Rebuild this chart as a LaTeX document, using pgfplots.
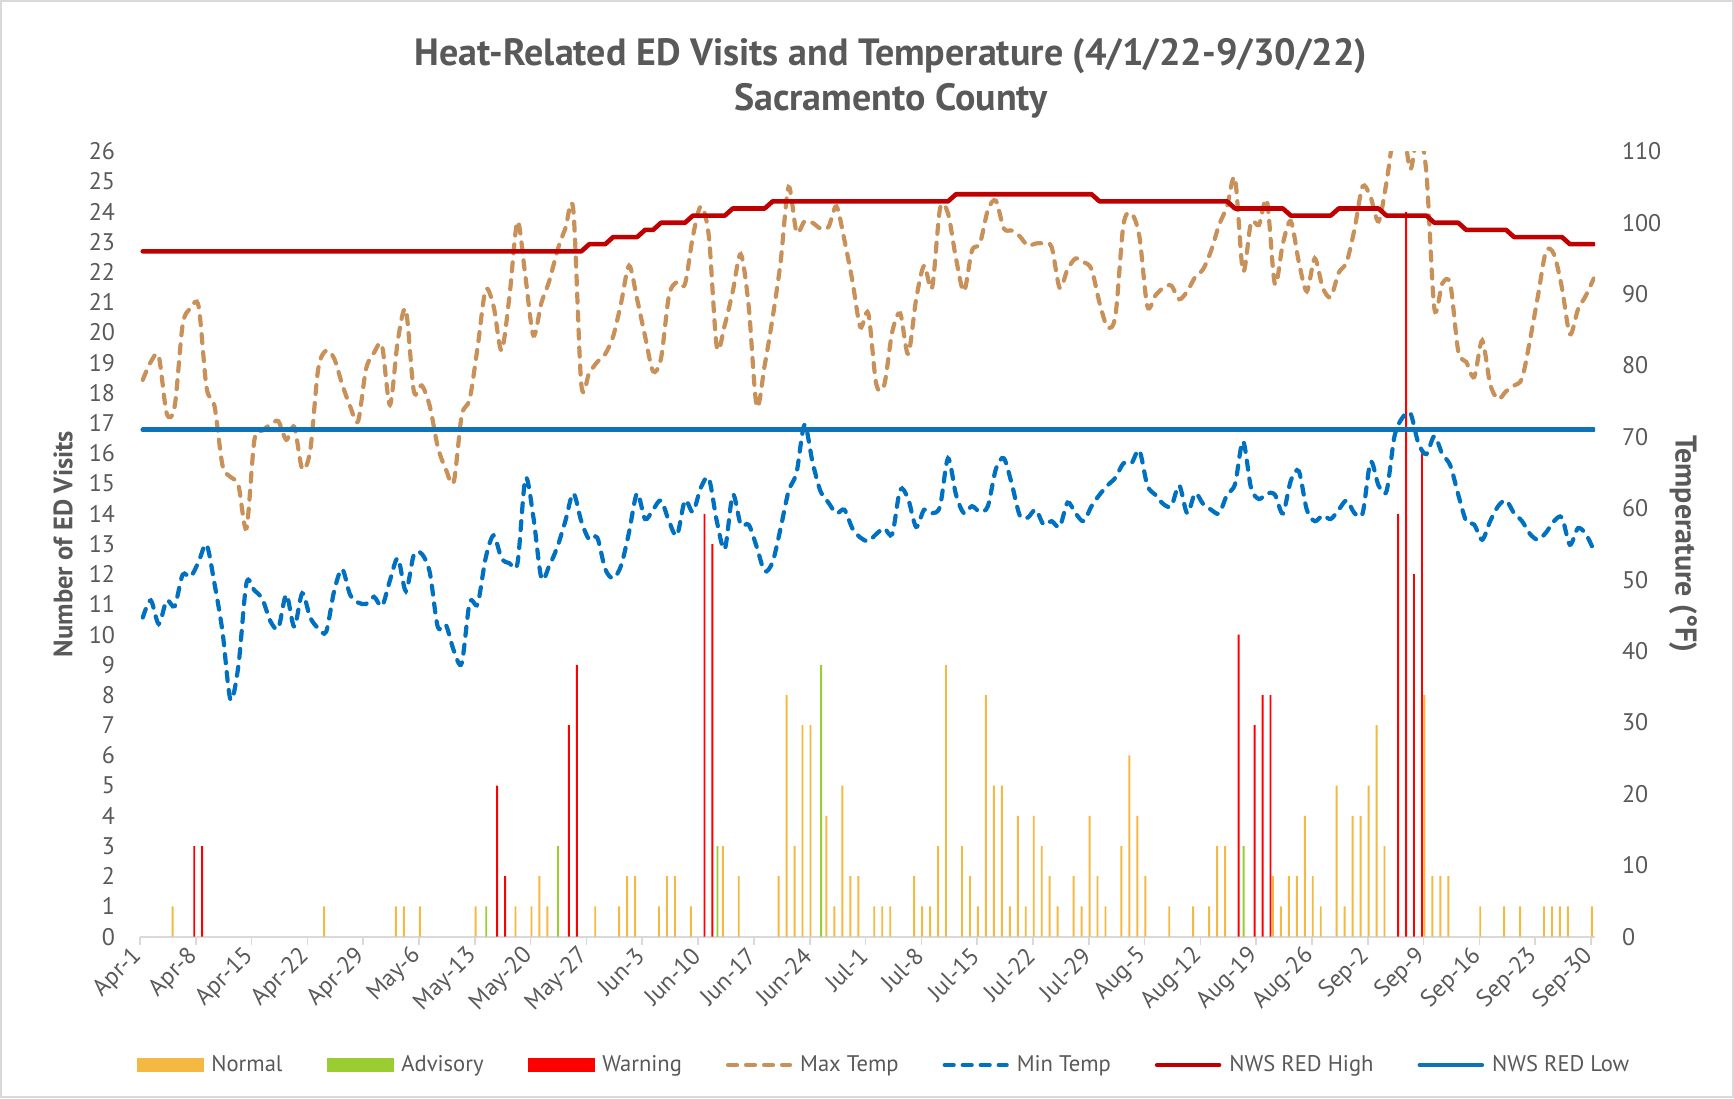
\documentclass[border=0pt]{standalone}
\usepackage{fontspec}
\setmainfont{PT Sans}
\usepackage{pgfplots}
\pgfplotsset{compat=1.18}
\usepackage{pgfplotstable}

\definecolor{cNormal}{HTML}{F4B942}
\definecolor{cAdv}{HTML}{9ACD32}
\definecolor{cWarn}{HTML}{FF0000}
\definecolor{cMax}{HTML}{C8915A}
\definecolor{cMin}{HTML}{0070C0}
\definecolor{cHigh}{HTML}{C00000}
\definecolor{cLow}{HTML}{0E72B8}
\definecolor{tcol}{HTML}{595959}
\definecolor{gcol}{HTML}{D9D9D9}

\pgfplotstableread{
d v
4 1
23 1
32 1
33 1
35 1
42 1
47 1
49 1
50 2
51 1
57 1
60 1
61 2
62 2
65 1
66 2
67 2
69 1
73 3
75 2
80 2
81 8
82 3
83 7
84 7
86 4
87 1
88 5
89 2
90 2
92 1
93 1
94 1
97 2
98 1
99 1
100 3
101 9
103 3
104 2
105 1
106 8
107 5
108 5
109 1
110 4
111 1
112 4
113 3
114 2
115 1
117 2
118 1
119 4
120 2
121 1
123 3
124 6
125 4
126 2
129 1
132 1
134 1
135 3
136 3
142 2
143 1
144 2
145 2
146 4
147 2
148 1
150 5
151 1
152 4
153 4
154 5
155 7
156 3
161 8
162 2
163 2
164 2
168 1
171 1
173 1
176 1
177 1
178 1
179 1
182 1
}\normaltab

\pgfplotstableread{
d v
43 1
52 3
72 3
85 9
138 3
}\advtab

\pgfplotstableread{
d v
7 3
8 3
45 5
46 2
54 7
55 9
71 14
72 13
138 10
140 7
141 8
142 8
158 14
159 24
160 12
161 16
}\warntab

\pgfplotstableread{
d max min high
0 78.0 44.7 96
1 80.5 47.1 96
2 81.3 43.8 96
3 73.3 47.1 96
4 74.3 46.3 96
5 85.7 50.7 96
6 88.0 50.4 96
7 88.3 52.5 96
8 76.9 54.9 96
9 74.3 49.4 96
10 66.0 42.7 96
11 64.4 33.2 96
12 63.2 38.0 96
13 57.2 49.5 96
14 69.6 48.5 96
15 70.9 47.3 96
16 71.7 44.2 96
17 72.2 43.2 96
18 69.6 47.9 96
19 71.4 43.4 96
20 65.5 48.1 96
21 68.1 44.7 96
22 79.5 43.2 96
23 82.1 42.7 96
24 81.0 48.4 96
25 77.4 51.5 96
26 74.3 47.9 96
27 72.2 46.8 96
28 79.5 46.6 96
29 81.8 47.6 96
30 82.8 46.3 96
31 74.5 49.9 96
32 83.6 53.0 96
33 87.8 48.4 96
34 76.4 53.5 96
35 77.2 53.6 96
36 74.3 51.0 96
37 68.6 43.4 96
38 65.5 43.7 96
39 63.7 40.1 96
40 73.0 38.3 96
41 75.3 46.8 96
42 82.6 46.6 96
43 90.6 53.0 96
44 88.3 56.2 96
45 82.1 53.0 96
46 89.8 52.3 96
47 100.2 52.3 96
48 92.4 64.2 96
49 84.2 58.7 96
50 88.8 50.2 96
51 91.9 52.0 96
52 96.1 54.6 96
53 99.2 58.2 96
54 101.8 62.1 96
55 77.4 58.2 96
56 79.0 55.6 97
57 80.5 55.9 97
58 81.6 51.5 97
59 84.1 50.2 98
60 88.8 52.0 98
61 94.0 56.7 98
62 89.3 62.1 98
63 84.1 58.5 99
64 79.2 59.8 99
65 81.0 61.1 100
66 89.8 58.2 100
67 91.7 56.2 100
68 91.4 61.1 100
69 98.1 59.5 101
70 102.3 62.9 101
71 98.1 64.2 101
72 82.6 58.2 101
73 85.7 54.3 101
74 90.4 61.9 102
75 95.6 57.7 102
76 88.3 57.7 102
77 74.3 54.6 102
78 80.0 51.2 102
79 86.7 52.5 103
80 94.5 57.2 103
81 105.0 62.4 103
82 98.7 65.0 103
83 100.2 71.7 103
84 100.0 66.5 103
85 99.2 62.4 103
86 99.4 60.8 103
87 102.3 59.3 103
88 97.6 59.8 103
89 91.9 57.2 103
90 85.4 55.9 103
91 87.3 55.4 103
92 77.4 56.4 103
93 77.3 57.2 103
94 84.7 56.4 103
95 87.3 62.6 103
96 81.6 61.3 103
97 89.3 57.4 103
98 94.0 59.8 103
99 90.9 59.3 103
100 102.0 60.3 103
101 101.3 67.0 103
102 95.0 61.9 104
103 90.4 59.3 104
104 96.1 60.3 104
105 97.1 59.5 104
106 101.8 60.3 104
107 103.1 65.5 104
108 99.2 67.0 104
109 98.9 63.4 104
110 98.1 59.0 104
111 96.8 58.7 104
112 97.1 59.8 104
113 97.1 57.7 104
114 96.6 58.2 104
115 90.9 57.4 104
116 93.5 60.8 104
117 95.0 59.3 104
118 94.5 58.2 104
119 93.5 60.3 104
120 88.8 61.9 103
121 85.4 63.2 103
122 87.0 64.3 103
123 99.7 66.3 103
124 101.3 66.3 103
125 98.1 68.1 103
126 88.3 63.2 103
127 89.8 61.9 103
128 90.9 60.6 103
129 91.2 60.3 103
130 89.3 63.2 103
131 90.4 59.3 103
132 92.4 62.1 103
133 93.5 60.6 103
134 96.1 59.8 103
135 99.7 59.3 103
136 102.3 61.9 103
137 106.2 63.4 102
138 93.2 69.4 102
139 100.0 62.9 102
140 99.7 61.3 102
141 103.1 62.1 102
142 91.4 61.9 102
143 97.1 59.3 102
144 100.2 63.9 101
145 94.5 65.2 101
146 90.4 59.8 101
147 95.0 58.2 101
148 90.9 59.0 101
149 89.6 58.5 101
150 93.0 59.8 102
151 94.5 61.1 102
152 99.2 59.3 102
153 105.1 59.3 102
154 103.6 66.5 102
155 100.2 63.2 102
156 105.7 62.4 101
157 113.0 70.1 101
158 114.0 72.7 101
159 107.5 73.3 101
160 113.0 69.1 101
161 107.0 67.6 101
162 88.0 70.1 100
163 91.5 67.6 100
164 91.4 66.0 100
165 82.0 61.9 100
166 80.5 58.2 99
167 78.4 57.7 99
168 83.5 55.6 99
169 77.4 58.2 99
170 75.3 60.3 99
171 76.4 61.1 99
172 77.2 59.3 98
173 78.2 58.2 98
174 83.6 56.4 98
175 89.8 55.6 98
176 96.0 56.6 98
177 95.6 58.2 98
178 90.9 58.7 98
179 84.4 54.9 97
180 87.8 57.2 97
181 89.8 56.4 97
182 92.2 54.1 97
}\temptab

\begin{document}
\begin{tikzpicture}
\path[use as bounding box] (-70pt,-80.7pt) rectangle (797pt,468.3pt);
\draw[gcol, line width=0.8pt] (-69.5pt,-80.2pt) rectangle (796.5pt,467.8pt);

% ---------- bars (left axis) ----------
\begin{axis}[
  at={(0,0)}, anchor=south west,
  scale only axis, width=727.5pt, height=392.6pt,
  xmin=0, xmax=182.5, ymin=0, ymax=26,
  axis x line*=bottom, axis y line*=left,
  x axis line style={draw=gcol, line width=1pt},
  y axis line style={draw=none},
  xtick={0,7,...,182},
  xticklabels={Apr-1,Apr-8,Apr-15,Apr-22,Apr-29,May-6,May-13,May-20,May-27,Jun-3,Jun-10,Jun-17,Jun-24,Jul-1,Jul-8,Jul-15,Jul-22,Jul-29,Aug-5,Aug-12,Aug-19,Aug-26,Sep-2,Sep-9,Sep-16,Sep-23,Sep-30},
  xtick style={draw=gcol, line width=0.8pt},
  tick align=outside,
  major tick length=4pt,
  ytick={0,1,...,26},
  ytick style={draw=none},
  /pgf/number format/assume math mode=true,
  tick label style={color=tcol, font=\fontsize{12}{14}\selectfont},
  xticklabel style={rotate=45, anchor=east, yshift=-2pt},
  yticklabel style={xshift=-5pt},
  every axis y label/.style={at={(axis description cs:-0.0529,0.5)}, rotate=90, anchor=center, font=\bfseries\fontsize{13.3}{16}\selectfont, color=tcol},
  ylabel={Number of ED Visits},
]
\addplot[ybar, bar width=0.24, bar shift=0.1, fill=cNormal, draw=none] table[x=d,y=v]{\normaltab};
\addplot[ybar, bar width=0.24, bar shift=0.43, fill=cAdv, draw=none] table[x=d,y=v]{\advtab};
\addplot[ybar, bar width=0.24, bar shift=-0.2, fill=cWarn, draw=none] table[x=d,y=v]{\warntab};
\end{axis}

% ---------- temperatures (right axis) ----------
\begin{axis}[
  at={(0,0)}, anchor=south west,
  scale only axis, width=727.5pt, height=392.6pt,
  xmin=0, xmax=182.5, ymin=0, ymax=110,
  axis x line=none, xtick=\empty,
  axis y line*=right,
  y axis line style={draw=none},
  ytick={0,10,...,110},
  ytick style={draw=none},
  /pgf/number format/assume math mode=true,
  tick label style={color=tcol, font=\fontsize{12}{14}\selectfont},
  yticklabel style={xshift=10pt},
  every axis y label/.style={at={(axis description cs:1.0605,0.5)}, rotate=-90, anchor=center, font=\bfseries\fontsize{15}{18}\selectfont, color=tcol},
  ylabel={Temperature (°F)},
  legend columns=-1,
  legend style={at={(axis description cs:0.512,-0.1635)}, anchor=center, draw=none, fill=none,
    font=\fontsize{11.3}{13}\selectfont, text=tcol,
    /tikz/every odd column/.append style={column sep=2pt},
    /tikz/every even column/.append style={column sep=20pt}},
  legend cell align=left,
]
\addlegendimage{legend image code/.code={\fill[cNormal] (0pt,-3.3pt) rectangle (33pt,3.3pt);}}
\addlegendentry{Normal}
\addlegendimage{legend image code/.code={\fill[cAdv] (0pt,-3.3pt) rectangle (33pt,3.3pt);}}
\addlegendentry{Advisory}
\addlegendimage{legend image code/.code={\fill[cWarn] (0pt,-3.3pt) rectangle (33pt,3.3pt);}}
\addlegendentry{Warning}
\addlegendimage{legend image code/.code={\draw[cMax, line width=2.1pt, line cap=round, dash pattern=on 4.5pt off 4.5pt] (1pt,0pt) -- (32pt,0pt);}}
\addlegendentry{Max Temp}
\addlegendimage{legend image code/.code={\draw[cMin, line width=2.1pt, line cap=round, dash pattern=on 4.5pt off 4.5pt] (1pt,0pt) -- (32pt,0pt);}}
\addlegendentry{Min Temp}
\addlegendimage{legend image code/.code={\draw[cHigh, line width=2.3pt, line cap=round] (1pt,0pt) -- (32pt,0pt);}}
\addlegendentry{NWS RED High}
\addlegendimage{legend image code/.code={\draw[cLow, line width=2.3pt, line cap=round] (1pt,0pt) -- (32pt,0pt);}}
\addlegendentry{NWS RED Low}

\addplot[cMax, line width=2.1pt, line cap=round, dash pattern=on 4.5pt off 4.5pt, smooth, tension=0.5, forget plot]
  table[x expr=\thisrow{d}+0.35, y=max]{\temptab};
\addplot[cMin, line width=2.1pt, line cap=round, dash pattern=on 4.5pt off 4.5pt, smooth, tension=0.5, forget plot]
  table[x expr=\thisrow{d}+0.35, y=min]{\temptab};
\addplot[cHigh, line width=2.3pt, line cap=round, line join=round, forget plot]
  table[x expr=\thisrow{d}+0.35, y=high]{\temptab};
\addplot[cLow, line width=2.3pt, line cap=round, forget plot] coordinates {(0.35,71) (182.35,71)};
\end{axis}

\node[anchor=base, text=tcol, font=\bfseries\fontsize{19}{22}\selectfont] at (375.4pt,435.6pt) {Heat-Related ED Visits and Temperature (4/1/22-9/30/22)};
\node[anchor=base, text=tcol, font=\bfseries\fontsize{19}{22}\selectfont] at (375.4pt,413pt) {Sacramento County};
\end{tikzpicture}
\end{document}
